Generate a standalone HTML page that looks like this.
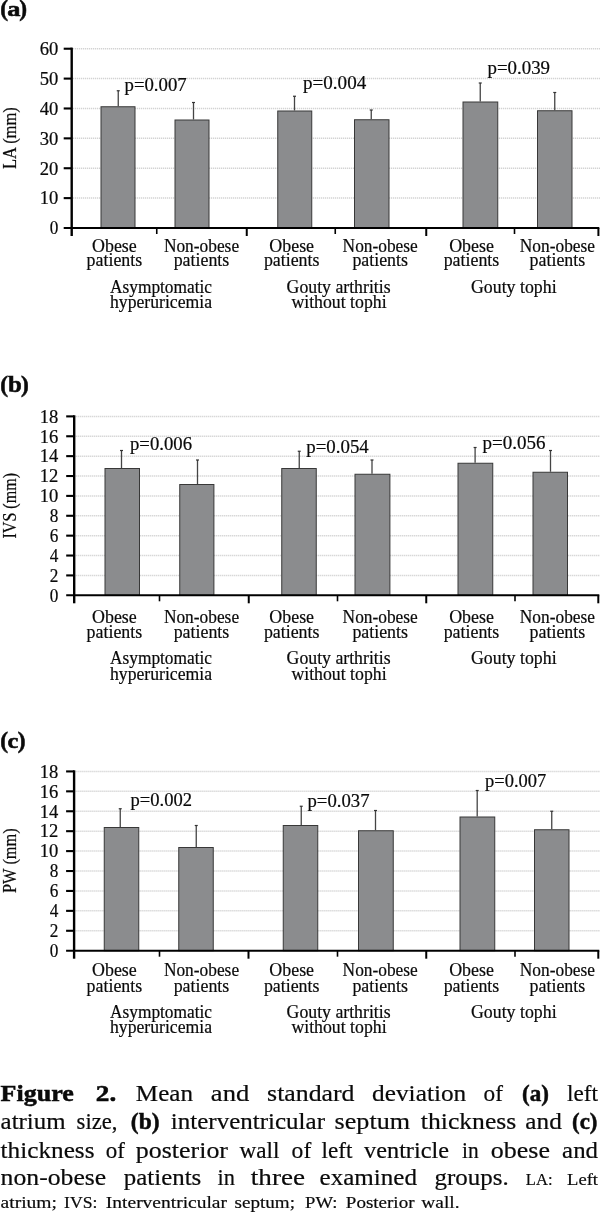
<!DOCTYPE html>
<html><head><meta charset="utf-8"><title>Figure 2</title>
<style>
html,body{margin:0;padding:0;background:#fff;}
body{width:600px;height:1212px;position:relative;overflow:hidden;font-family:"Liberation Serif", serif;color:#111;}
svg{position:absolute;left:0;top:0;}
svg text{font-family:"Liberation Serif", serif;fill:#0a0a0a;stroke:#0a0a0a;stroke-width:0.2px;}
svg text.pl{stroke-width:0.55px;}
svg text.pb{stroke-width:0.5px;}
</style></head><body>
<svg width="600" height="1212" viewBox="0 0 600 1212">
<line x1="73.2" y1="198.12" x2="600" y2="198.12" stroke="#c8c8c8" stroke-width="1.5" stroke-dasharray="1 1"/>
<line x1="73.2" y1="168.24" x2="600" y2="168.24" stroke="#c8c8c8" stroke-width="1.5" stroke-dasharray="1 1"/>
<line x1="73.2" y1="138.36" x2="600" y2="138.36" stroke="#c8c8c8" stroke-width="1.5" stroke-dasharray="1 1"/>
<line x1="73.2" y1="108.48" x2="600" y2="108.48" stroke="#c8c8c8" stroke-width="1.5" stroke-dasharray="1 1"/>
<line x1="73.2" y1="78.60" x2="600" y2="78.60" stroke="#c8c8c8" stroke-width="1.5" stroke-dasharray="1 1"/>
<line x1="73.2" y1="48.72" x2="600" y2="48.72" stroke="#c8c8c8" stroke-width="1.5" stroke-dasharray="1 1"/>
<line x1="118.25" y1="90.75" x2="118.25" y2="106.25" stroke="#444" stroke-width="1.3"/>
<line x1="116.75" y1="90.75" x2="119.75" y2="90.75" stroke="#333" stroke-width="1.2"/>
<rect x="101.0" y="106.75" width="34.0" height="121.25" fill="#8b8c8e" stroke="#383838" stroke-width="1"/>
<line x1="193.5" y1="102.5" x2="193.5" y2="119.5" stroke="#444" stroke-width="1.3"/>
<line x1="192.0" y1="102.5" x2="195.0" y2="102.5" stroke="#333" stroke-width="1.2"/>
<rect x="175.0" y="120.0" width="34.0" height="108.0" fill="#8b8c8e" stroke="#383838" stroke-width="1"/>
<line x1="294.5" y1="96.25" x2="294.5" y2="110.5" stroke="#444" stroke-width="1.3"/>
<line x1="293.0" y1="96.25" x2="296.0" y2="96.25" stroke="#333" stroke-width="1.2"/>
<rect x="277.75" y="111.0" width="34.0" height="117.0" fill="#8b8c8e" stroke="#383838" stroke-width="1"/>
<line x1="371.25" y1="110" x2="371.25" y2="119.25" stroke="#444" stroke-width="1.3"/>
<line x1="369.75" y1="110" x2="372.75" y2="110" stroke="#333" stroke-width="1.2"/>
<rect x="354.5" y="119.75" width="34.5" height="108.25" fill="#8b8c8e" stroke="#383838" stroke-width="1"/>
<line x1="480.25" y1="83" x2="480.25" y2="101.5" stroke="#444" stroke-width="1.3"/>
<line x1="478.75" y1="83" x2="481.75" y2="83" stroke="#333" stroke-width="1.2"/>
<rect x="463.0" y="102.0" width="34.75" height="126.0" fill="#8b8c8e" stroke="#383838" stroke-width="1"/>
<line x1="554.75" y1="92.5" x2="554.75" y2="110.25" stroke="#444" stroke-width="1.3"/>
<line x1="553.25" y1="92.5" x2="556.25" y2="92.5" stroke="#333" stroke-width="1.2"/>
<rect x="537.5" y="110.75" width="34.5" height="117.25" fill="#8b8c8e" stroke="#383838" stroke-width="1"/>
<line x1="71.7" y1="47.62" x2="71.7" y2="236" stroke="#000" stroke-width="2.4"/>
<line x1="63.7" y1="228" x2="599.3" y2="228" stroke="#000" stroke-width="2.1"/>
<line x1="63.7" y1="198.12" x2="71.7" y2="198.12" stroke="#000" stroke-width="2.1"/>
<line x1="63.7" y1="168.24" x2="71.7" y2="168.24" stroke="#000" stroke-width="2.1"/>
<line x1="63.7" y1="138.36" x2="71.7" y2="138.36" stroke="#000" stroke-width="2.1"/>
<line x1="63.7" y1="108.48" x2="71.7" y2="108.48" stroke="#000" stroke-width="2.1"/>
<line x1="63.7" y1="78.60" x2="71.7" y2="78.60" stroke="#000" stroke-width="2.1"/>
<line x1="63.7" y1="48.72" x2="71.7" y2="48.72" stroke="#000" stroke-width="2.1"/>
<line x1="156.75" y1="228" x2="156.75" y2="234" stroke="#000" stroke-width="1.6"/>
<line x1="246.75" y1="228" x2="246.75" y2="236" stroke="#000" stroke-width="2"/>
<line x1="335.25" y1="228" x2="335.25" y2="234" stroke="#000" stroke-width="1.6"/>
<line x1="426.25" y1="228" x2="426.25" y2="236" stroke="#000" stroke-width="2"/>
<line x1="514.5" y1="228" x2="514.5" y2="234" stroke="#000" stroke-width="1.6"/>
<line x1="598.4" y1="228" x2="598.4" y2="236" stroke="#000" stroke-width="2"/>
<text x="58.3" y="234.30" font-size="18" text-anchor="end" textLength="8.6" lengthAdjust="spacingAndGlyphs">0</text>
<text x="58.3" y="204.42" font-size="18" text-anchor="end" textLength="18.6" lengthAdjust="spacingAndGlyphs">10</text>
<text x="58.3" y="174.54" font-size="18" text-anchor="end" textLength="18.6" lengthAdjust="spacingAndGlyphs">20</text>
<text x="58.3" y="144.66" font-size="18" text-anchor="end" textLength="18.6" lengthAdjust="spacingAndGlyphs">30</text>
<text x="58.3" y="114.78" font-size="18" text-anchor="end" textLength="18.6" lengthAdjust="spacingAndGlyphs">40</text>
<text x="58.3" y="84.90" font-size="18" text-anchor="end" textLength="18.6" lengthAdjust="spacingAndGlyphs">50</text>
<text x="58.3" y="55.02" font-size="18" text-anchor="end" textLength="18.6" lengthAdjust="spacingAndGlyphs">60</text>
<text x="124.5" y="91.25" font-size="18" textLength="62.2" lengthAdjust="spacingAndGlyphs">p=0.007</text>
<text x="303" y="89.25" font-size="18" textLength="63.2" lengthAdjust="spacingAndGlyphs">p=0.004</text>
<text x="487.5" y="73.75" font-size="18" textLength="62.5" lengthAdjust="spacingAndGlyphs">p=0.039</text>
<text transform="translate(15.8 169) rotate(-90)" font-size="18" textLength="61.7" lengthAdjust="spacingAndGlyphs">LA (mm)</text>
<text x="114.4" y="251.7" font-size="18" text-anchor="middle" textLength="44.7" lengthAdjust="spacingAndGlyphs">Obese</text>
<text x="114.4" y="266.3" font-size="18" text-anchor="middle" textLength="55.6" lengthAdjust="spacingAndGlyphs">patients</text>
<text x="201.5" y="251.7" font-size="18" text-anchor="middle" textLength="75.2" lengthAdjust="spacingAndGlyphs">Non-obese</text>
<text x="201.5" y="266.3" font-size="18" text-anchor="middle" textLength="55.6" lengthAdjust="spacingAndGlyphs">patients</text>
<text x="291.7" y="251.7" font-size="18" text-anchor="middle" textLength="44.7" lengthAdjust="spacingAndGlyphs">Obese</text>
<text x="291.7" y="266.3" font-size="18" text-anchor="middle" textLength="55.6" lengthAdjust="spacingAndGlyphs">patients</text>
<text x="380.2" y="251.7" font-size="18" text-anchor="middle" textLength="75.2" lengthAdjust="spacingAndGlyphs">Non-obese</text>
<text x="380.2" y="266.3" font-size="18" text-anchor="middle" textLength="55.6" lengthAdjust="spacingAndGlyphs">patients</text>
<text x="471.5" y="251.7" font-size="18" text-anchor="middle" textLength="44.7" lengthAdjust="spacingAndGlyphs">Obese</text>
<text x="471.5" y="266.3" font-size="18" text-anchor="middle" textLength="55.6" lengthAdjust="spacingAndGlyphs">patients</text>
<text x="557.4" y="251.7" font-size="18" text-anchor="middle" textLength="75.2" lengthAdjust="spacingAndGlyphs">Non-obese</text>
<text x="557.4" y="266.3" font-size="18" text-anchor="middle" textLength="55.6" lengthAdjust="spacingAndGlyphs">patients</text>
<text x="161" y="292.5" font-size="18" text-anchor="middle" textLength="102" lengthAdjust="spacingAndGlyphs">Asymptomatic</text>
<text x="161" y="308" font-size="18" text-anchor="middle" textLength="102" lengthAdjust="spacingAndGlyphs">hyperuricemia</text>
<text x="338.6" y="292.5" font-size="18" text-anchor="middle" textLength="104" lengthAdjust="spacingAndGlyphs">Gouty arthritis</text>
<text x="339" y="308" font-size="18" text-anchor="middle" textLength="95.2" lengthAdjust="spacingAndGlyphs">without tophi</text>
<text x="513.8" y="292.5" font-size="18" text-anchor="middle" textLength="85.6" lengthAdjust="spacingAndGlyphs">Gouty tophi</text>
<text class="pl" y="15.8" font-size="23.4" font-weight="bold"><tspan x="0.30000000000000004">(</tspan><tspan x="7.2" font-size="22" textLength="13.2" lengthAdjust="spacingAndGlyphs">a</tspan><tspan x="19.2">)</tspan></text>
<line x1="75.7" y1="575.42" x2="600" y2="575.42" stroke="#c8c8c8" stroke-width="1.5" stroke-dasharray="1 1"/>
<line x1="75.7" y1="555.54" x2="600" y2="555.54" stroke="#c8c8c8" stroke-width="1.5" stroke-dasharray="1 1"/>
<line x1="75.7" y1="535.66" x2="600" y2="535.66" stroke="#c8c8c8" stroke-width="1.5" stroke-dasharray="1 1"/>
<line x1="75.7" y1="515.78" x2="600" y2="515.78" stroke="#c8c8c8" stroke-width="1.5" stroke-dasharray="1 1"/>
<line x1="75.7" y1="495.90" x2="600" y2="495.90" stroke="#c8c8c8" stroke-width="1.5" stroke-dasharray="1 1"/>
<line x1="75.7" y1="476.02" x2="600" y2="476.02" stroke="#c8c8c8" stroke-width="1.5" stroke-dasharray="1 1"/>
<line x1="75.7" y1="456.14" x2="600" y2="456.14" stroke="#c8c8c8" stroke-width="1.5" stroke-dasharray="1 1"/>
<line x1="75.7" y1="436.26" x2="600" y2="436.26" stroke="#c8c8c8" stroke-width="1.5" stroke-dasharray="1 1"/>
<line x1="75.7" y1="416.38" x2="600" y2="416.38" stroke="#c8c8c8" stroke-width="1.5" stroke-dasharray="1 1"/>
<line x1="121.5" y1="450.5" x2="121.5" y2="468" stroke="#444" stroke-width="1.3"/>
<line x1="120.0" y1="450.5" x2="123.0" y2="450.5" stroke="#333" stroke-width="1.2"/>
<rect x="105.0" y="468.5" width="34.5" height="126.79999999999995" fill="#8b8c8e" stroke="#383838" stroke-width="1"/>
<line x1="197.5" y1="460" x2="197.5" y2="484" stroke="#444" stroke-width="1.3"/>
<line x1="196.0" y1="460" x2="199.0" y2="460" stroke="#333" stroke-width="1.2"/>
<rect x="179.75" y="484.5" width="34.150000000000006" height="110.79999999999995" fill="#8b8c8e" stroke="#383838" stroke-width="1"/>
<line x1="299.25" y1="451.25" x2="299.25" y2="468" stroke="#444" stroke-width="1.3"/>
<line x1="297.75" y1="451.25" x2="300.75" y2="451.25" stroke="#333" stroke-width="1.2"/>
<rect x="281.75" y="468.5" width="34.5" height="126.79999999999995" fill="#8b8c8e" stroke="#383838" stroke-width="1"/>
<line x1="372" y1="460" x2="372" y2="473.75" stroke="#444" stroke-width="1.3"/>
<line x1="370.5" y1="460" x2="373.5" y2="460" stroke="#333" stroke-width="1.2"/>
<rect x="355.0" y="474.25" width="34.89999999999998" height="121.04999999999995" fill="#8b8c8e" stroke="#383838" stroke-width="1"/>
<line x1="475.1" y1="447.5" x2="475.1" y2="462.75" stroke="#444" stroke-width="1.3"/>
<line x1="473.6" y1="447.5" x2="476.6" y2="447.5" stroke="#333" stroke-width="1.2"/>
<rect x="458.0" y="463.25" width="34.75" height="132.04999999999995" fill="#8b8c8e" stroke="#383838" stroke-width="1"/>
<line x1="550.5" y1="450.5" x2="550.5" y2="471.75" stroke="#444" stroke-width="1.3"/>
<line x1="549.0" y1="450.5" x2="552.0" y2="450.5" stroke="#333" stroke-width="1.2"/>
<rect x="533.0" y="472.25" width="34.5" height="123.04999999999995" fill="#8b8c8e" stroke="#383838" stroke-width="1"/>
<line x1="74.2" y1="415.28" x2="74.2" y2="603.3" stroke="#000" stroke-width="2.4"/>
<line x1="66.2" y1="595.3" x2="599.3" y2="595.3" stroke="#000" stroke-width="2.1"/>
<line x1="66.2" y1="575.42" x2="74.2" y2="575.42" stroke="#000" stroke-width="2.1"/>
<line x1="66.2" y1="555.54" x2="74.2" y2="555.54" stroke="#000" stroke-width="2.1"/>
<line x1="66.2" y1="535.66" x2="74.2" y2="535.66" stroke="#000" stroke-width="2.1"/>
<line x1="66.2" y1="515.78" x2="74.2" y2="515.78" stroke="#000" stroke-width="2.1"/>
<line x1="66.2" y1="495.90" x2="74.2" y2="495.90" stroke="#000" stroke-width="2.1"/>
<line x1="66.2" y1="476.02" x2="74.2" y2="476.02" stroke="#000" stroke-width="2.1"/>
<line x1="66.2" y1="456.14" x2="74.2" y2="456.14" stroke="#000" stroke-width="2.1"/>
<line x1="66.2" y1="436.26" x2="74.2" y2="436.26" stroke="#000" stroke-width="2.1"/>
<line x1="66.2" y1="416.38" x2="74.2" y2="416.38" stroke="#000" stroke-width="2.1"/>
<line x1="159.5" y1="595.3" x2="159.5" y2="601.3" stroke="#000" stroke-width="1.6"/>
<line x1="248.75" y1="595.3" x2="248.75" y2="603.3" stroke="#000" stroke-width="2"/>
<line x1="337.5" y1="595.3" x2="337.5" y2="601.3" stroke="#000" stroke-width="1.6"/>
<line x1="426.25" y1="595.3" x2="426.25" y2="603.3" stroke="#000" stroke-width="2"/>
<line x1="515" y1="595.3" x2="515" y2="601.3" stroke="#000" stroke-width="1.6"/>
<line x1="598.3" y1="595.3" x2="598.3" y2="603.3" stroke="#000" stroke-width="2"/>
<text x="58.3" y="601.60" font-size="18" text-anchor="end" textLength="8.6" lengthAdjust="spacingAndGlyphs">0</text>
<text x="58.3" y="581.72" font-size="18" text-anchor="end" textLength="8.6" lengthAdjust="spacingAndGlyphs">2</text>
<text x="58.3" y="561.84" font-size="18" text-anchor="end" textLength="8.6" lengthAdjust="spacingAndGlyphs">4</text>
<text x="58.3" y="541.96" font-size="18" text-anchor="end" textLength="8.6" lengthAdjust="spacingAndGlyphs">6</text>
<text x="58.3" y="522.08" font-size="18" text-anchor="end" textLength="8.6" lengthAdjust="spacingAndGlyphs">8</text>
<text x="58.3" y="502.20" font-size="18" text-anchor="end" textLength="18.6" lengthAdjust="spacingAndGlyphs">10</text>
<text x="58.3" y="482.32" font-size="18" text-anchor="end" textLength="18.6" lengthAdjust="spacingAndGlyphs">12</text>
<text x="58.3" y="462.44" font-size="18" text-anchor="end" textLength="18.6" lengthAdjust="spacingAndGlyphs">14</text>
<text x="58.3" y="442.56" font-size="18" text-anchor="end" textLength="18.6" lengthAdjust="spacingAndGlyphs">16</text>
<text x="58.3" y="422.68" font-size="18" text-anchor="end" textLength="18.6" lengthAdjust="spacingAndGlyphs">18</text>
<text x="130" y="450" font-size="18" textLength="62" lengthAdjust="spacingAndGlyphs">p=0.006</text>
<text x="306.25" y="452.5" font-size="18" textLength="62.5" lengthAdjust="spacingAndGlyphs">p=0.054</text>
<text x="482.5" y="449.25" font-size="18" textLength="63" lengthAdjust="spacingAndGlyphs">p=0.056</text>
<text transform="translate(15.8 538.5) rotate(-90)" font-size="18" textLength="65.5" lengthAdjust="spacingAndGlyphs">IVS (mm)</text>
<text x="114.4" y="622.8" font-size="18" text-anchor="middle" textLength="44.7" lengthAdjust="spacingAndGlyphs">Obese</text>
<text x="114.4" y="637.8" font-size="18" text-anchor="middle" textLength="55.6" lengthAdjust="spacingAndGlyphs">patients</text>
<text x="201.5" y="622.8" font-size="18" text-anchor="middle" textLength="75.2" lengthAdjust="spacingAndGlyphs">Non-obese</text>
<text x="201.5" y="637.8" font-size="18" text-anchor="middle" textLength="55.6" lengthAdjust="spacingAndGlyphs">patients</text>
<text x="291.7" y="622.8" font-size="18" text-anchor="middle" textLength="44.7" lengthAdjust="spacingAndGlyphs">Obese</text>
<text x="291.7" y="637.8" font-size="18" text-anchor="middle" textLength="55.6" lengthAdjust="spacingAndGlyphs">patients</text>
<text x="380.2" y="622.8" font-size="18" text-anchor="middle" textLength="75.2" lengthAdjust="spacingAndGlyphs">Non-obese</text>
<text x="380.2" y="637.8" font-size="18" text-anchor="middle" textLength="55.6" lengthAdjust="spacingAndGlyphs">patients</text>
<text x="471.5" y="622.8" font-size="18" text-anchor="middle" textLength="44.7" lengthAdjust="spacingAndGlyphs">Obese</text>
<text x="471.5" y="637.8" font-size="18" text-anchor="middle" textLength="55.6" lengthAdjust="spacingAndGlyphs">patients</text>
<text x="557.4" y="622.8" font-size="18" text-anchor="middle" textLength="75.2" lengthAdjust="spacingAndGlyphs">Non-obese</text>
<text x="557.4" y="637.8" font-size="18" text-anchor="middle" textLength="55.6" lengthAdjust="spacingAndGlyphs">patients</text>
<text x="161" y="663.7" font-size="18" text-anchor="middle" textLength="102" lengthAdjust="spacingAndGlyphs">Asymptomatic</text>
<text x="161" y="679.5" font-size="18" text-anchor="middle" textLength="102" lengthAdjust="spacingAndGlyphs">hyperuricemia</text>
<text x="338.6" y="663.7" font-size="18" text-anchor="middle" textLength="104" lengthAdjust="spacingAndGlyphs">Gouty arthritis</text>
<text x="339" y="679.5" font-size="18" text-anchor="middle" textLength="95.2" lengthAdjust="spacingAndGlyphs">without tophi</text>
<text x="513.8" y="663.7" font-size="18" text-anchor="middle" textLength="85.6" lengthAdjust="spacingAndGlyphs">Gouty tophi</text>
<text class="pl" y="392.1" font-size="23.4" font-weight="bold"><tspan x="0.30000000000000004">(</tspan><tspan x="7.9" font-size="24" textLength="13.8" lengthAdjust="spacingAndGlyphs">b</tspan><tspan x="20.9">)</tspan></text>
<line x1="75.6" y1="930.78" x2="600" y2="930.78" stroke="#c8c8c8" stroke-width="1.5" stroke-dasharray="1 1"/>
<line x1="75.6" y1="910.86" x2="600" y2="910.86" stroke="#c8c8c8" stroke-width="1.5" stroke-dasharray="1 1"/>
<line x1="75.6" y1="890.94" x2="600" y2="890.94" stroke="#c8c8c8" stroke-width="1.5" stroke-dasharray="1 1"/>
<line x1="75.6" y1="871.02" x2="600" y2="871.02" stroke="#c8c8c8" stroke-width="1.5" stroke-dasharray="1 1"/>
<line x1="75.6" y1="851.10" x2="600" y2="851.10" stroke="#c8c8c8" stroke-width="1.5" stroke-dasharray="1 1"/>
<line x1="75.6" y1="831.18" x2="600" y2="831.18" stroke="#c8c8c8" stroke-width="1.5" stroke-dasharray="1 1"/>
<line x1="75.6" y1="811.26" x2="600" y2="811.26" stroke="#c8c8c8" stroke-width="1.5" stroke-dasharray="1 1"/>
<line x1="75.6" y1="791.34" x2="600" y2="791.34" stroke="#c8c8c8" stroke-width="1.5" stroke-dasharray="1 1"/>
<line x1="75.6" y1="771.42" x2="600" y2="771.42" stroke="#c8c8c8" stroke-width="1.5" stroke-dasharray="1 1"/>
<line x1="120.25" y1="808.75" x2="120.25" y2="827" stroke="#444" stroke-width="1.3"/>
<line x1="118.75" y1="808.75" x2="121.75" y2="808.75" stroke="#333" stroke-width="1.2"/>
<rect x="104.25" y="827.5" width="34.5" height="123.20000000000005" fill="#8b8c8e" stroke="#383838" stroke-width="1"/>
<line x1="196.25" y1="825.5" x2="196.25" y2="847" stroke="#444" stroke-width="1.3"/>
<line x1="194.75" y1="825.5" x2="197.75" y2="825.5" stroke="#333" stroke-width="1.2"/>
<rect x="178.75" y="847.5" width="34.5" height="103.20000000000005" fill="#8b8c8e" stroke="#383838" stroke-width="1"/>
<line x1="301.25" y1="806.25" x2="301.25" y2="825" stroke="#444" stroke-width="1.3"/>
<line x1="299.75" y1="806.25" x2="302.75" y2="806.25" stroke="#333" stroke-width="1.2"/>
<rect x="283.25" y="825.5" width="34.5" height="125.20000000000005" fill="#8b8c8e" stroke="#383838" stroke-width="1"/>
<line x1="375.5" y1="810.5" x2="375.5" y2="830.25" stroke="#444" stroke-width="1.3"/>
<line x1="374.0" y1="810.5" x2="377.0" y2="810.5" stroke="#333" stroke-width="1.2"/>
<rect x="358.5" y="830.75" width="34.75" height="119.95000000000005" fill="#8b8c8e" stroke="#383838" stroke-width="1"/>
<line x1="477.2" y1="790.5" x2="477.2" y2="816.5" stroke="#444" stroke-width="1.3"/>
<line x1="475.7" y1="790.5" x2="478.7" y2="790.5" stroke="#333" stroke-width="1.2"/>
<rect x="460.0" y="817.0" width="34.75" height="133.70000000000005" fill="#8b8c8e" stroke="#383838" stroke-width="1"/>
<line x1="551.75" y1="811.25" x2="551.75" y2="829.25" stroke="#444" stroke-width="1.3"/>
<line x1="550.25" y1="811.25" x2="553.25" y2="811.25" stroke="#333" stroke-width="1.2"/>
<rect x="534.5" y="829.75" width="34.5" height="120.95000000000005" fill="#8b8c8e" stroke="#383838" stroke-width="1"/>
<line x1="74.1" y1="770.32" x2="74.1" y2="958.7" stroke="#000" stroke-width="2.4"/>
<line x1="66.1" y1="950.7" x2="599.3" y2="950.7" stroke="#000" stroke-width="2.1"/>
<line x1="66.1" y1="930.78" x2="74.1" y2="930.78" stroke="#000" stroke-width="2.1"/>
<line x1="66.1" y1="910.86" x2="74.1" y2="910.86" stroke="#000" stroke-width="2.1"/>
<line x1="66.1" y1="890.94" x2="74.1" y2="890.94" stroke="#000" stroke-width="2.1"/>
<line x1="66.1" y1="871.02" x2="74.1" y2="871.02" stroke="#000" stroke-width="2.1"/>
<line x1="66.1" y1="851.10" x2="74.1" y2="851.10" stroke="#000" stroke-width="2.1"/>
<line x1="66.1" y1="831.18" x2="74.1" y2="831.18" stroke="#000" stroke-width="2.1"/>
<line x1="66.1" y1="811.26" x2="74.1" y2="811.26" stroke="#000" stroke-width="2.1"/>
<line x1="66.1" y1="791.34" x2="74.1" y2="791.34" stroke="#000" stroke-width="2.1"/>
<line x1="66.1" y1="771.42" x2="74.1" y2="771.42" stroke="#000" stroke-width="2.1"/>
<line x1="159.5" y1="950.7" x2="159.5" y2="956.7" stroke="#000" stroke-width="1.6"/>
<line x1="248.5" y1="950.7" x2="248.5" y2="958.7" stroke="#000" stroke-width="2"/>
<line x1="337.5" y1="950.7" x2="337.5" y2="956.7" stroke="#000" stroke-width="1.6"/>
<line x1="426.25" y1="950.7" x2="426.25" y2="958.7" stroke="#000" stroke-width="2"/>
<line x1="515" y1="950.7" x2="515" y2="956.7" stroke="#000" stroke-width="1.6"/>
<line x1="598.3" y1="950.7" x2="598.3" y2="958.7" stroke="#000" stroke-width="2"/>
<text x="58.3" y="957.00" font-size="18" text-anchor="end" textLength="8.6" lengthAdjust="spacingAndGlyphs">0</text>
<text x="58.3" y="937.08" font-size="18" text-anchor="end" textLength="8.6" lengthAdjust="spacingAndGlyphs">2</text>
<text x="58.3" y="917.16" font-size="18" text-anchor="end" textLength="8.6" lengthAdjust="spacingAndGlyphs">4</text>
<text x="58.3" y="897.24" font-size="18" text-anchor="end" textLength="8.6" lengthAdjust="spacingAndGlyphs">6</text>
<text x="58.3" y="877.32" font-size="18" text-anchor="end" textLength="8.6" lengthAdjust="spacingAndGlyphs">8</text>
<text x="58.3" y="857.40" font-size="18" text-anchor="end" textLength="18.6" lengthAdjust="spacingAndGlyphs">10</text>
<text x="58.3" y="837.48" font-size="18" text-anchor="end" textLength="18.6" lengthAdjust="spacingAndGlyphs">12</text>
<text x="58.3" y="817.56" font-size="18" text-anchor="end" textLength="18.6" lengthAdjust="spacingAndGlyphs">14</text>
<text x="58.3" y="797.64" font-size="18" text-anchor="end" textLength="18.6" lengthAdjust="spacingAndGlyphs">16</text>
<text x="58.3" y="777.72" font-size="18" text-anchor="end" textLength="18.6" lengthAdjust="spacingAndGlyphs">18</text>
<text x="130.5" y="805.5" font-size="18" textLength="61.5" lengthAdjust="spacingAndGlyphs">p=0.002</text>
<text x="307.5" y="806.5" font-size="18" textLength="62" lengthAdjust="spacingAndGlyphs">p=0.037</text>
<text x="485" y="786.75" font-size="18" textLength="61.25" lengthAdjust="spacingAndGlyphs">p=0.007</text>
<text transform="translate(15.8 893) rotate(-90)" font-size="18" textLength="64.8" lengthAdjust="spacingAndGlyphs">PW (mm)</text>
<text x="114.4" y="975.7" font-size="18" text-anchor="middle" textLength="44.7" lengthAdjust="spacingAndGlyphs">Obese</text>
<text x="114.4" y="991.7" font-size="18" text-anchor="middle" textLength="55.6" lengthAdjust="spacingAndGlyphs">patients</text>
<text x="201.5" y="975.7" font-size="18" text-anchor="middle" textLength="75.2" lengthAdjust="spacingAndGlyphs">Non-obese</text>
<text x="201.5" y="991.7" font-size="18" text-anchor="middle" textLength="55.6" lengthAdjust="spacingAndGlyphs">patients</text>
<text x="291.7" y="975.7" font-size="18" text-anchor="middle" textLength="44.7" lengthAdjust="spacingAndGlyphs">Obese</text>
<text x="291.7" y="991.7" font-size="18" text-anchor="middle" textLength="55.6" lengthAdjust="spacingAndGlyphs">patients</text>
<text x="380.2" y="975.7" font-size="18" text-anchor="middle" textLength="75.2" lengthAdjust="spacingAndGlyphs">Non-obese</text>
<text x="380.2" y="991.7" font-size="18" text-anchor="middle" textLength="55.6" lengthAdjust="spacingAndGlyphs">patients</text>
<text x="471.5" y="975.7" font-size="18" text-anchor="middle" textLength="44.7" lengthAdjust="spacingAndGlyphs">Obese</text>
<text x="471.5" y="991.7" font-size="18" text-anchor="middle" textLength="55.6" lengthAdjust="spacingAndGlyphs">patients</text>
<text x="557.4" y="975.7" font-size="18" text-anchor="middle" textLength="75.2" lengthAdjust="spacingAndGlyphs">Non-obese</text>
<text x="557.4" y="991.7" font-size="18" text-anchor="middle" textLength="55.6" lengthAdjust="spacingAndGlyphs">patients</text>
<text x="161" y="1017.8" font-size="18" text-anchor="middle" textLength="102" lengthAdjust="spacingAndGlyphs">Asymptomatic</text>
<text x="161" y="1033.2" font-size="18" text-anchor="middle" textLength="102" lengthAdjust="spacingAndGlyphs">hyperuricemia</text>
<text x="338.6" y="1017.8" font-size="18" text-anchor="middle" textLength="104" lengthAdjust="spacingAndGlyphs">Gouty arthritis</text>
<text x="339" y="1033.2" font-size="18" text-anchor="middle" textLength="95.2" lengthAdjust="spacingAndGlyphs">without tophi</text>
<text x="513.8" y="1017.8" font-size="18" text-anchor="middle" textLength="85.6" lengthAdjust="spacingAndGlyphs">Gouty tophi</text>
<text class="pl" y="748" font-size="23.4" font-weight="bold"><tspan x="0.30000000000000004">(</tspan><tspan x="7.6" font-size="22" textLength="10.8" lengthAdjust="spacingAndGlyphs">c</tspan><tspan x="17.8">)</tspan></text>
<text x="0.6" y="1100.7" font-size="23" textLength="73.15" lengthAdjust="spacingAndGlyphs" font-weight="bold" class="pb">Figure</text>
<text x="95.85" y="1100.7" font-size="23" textLength="20.4" lengthAdjust="spacingAndGlyphs" font-weight="bold" class="pb">2.</text>
<text x="135.85" y="1100.7" font-size="23" textLength="57.15" lengthAdjust="spacingAndGlyphs">Mean</text>
<text x="210.85" y="1100.7" font-size="23" textLength="38.4" lengthAdjust="spacingAndGlyphs">and</text>
<text x="267.1" y="1100.7" font-size="23" textLength="87.4" lengthAdjust="spacingAndGlyphs">standard</text>
<text x="372.1" y="1100.7" font-size="23" textLength="94.15" lengthAdjust="spacingAndGlyphs">deviation</text>
<text x="483.6" y="1100.7" font-size="23" textLength="19.4" lengthAdjust="spacingAndGlyphs">of</text>
<text x="522.1" y="1100.7" font-size="23" textLength="26.9" lengthAdjust="spacingAndGlyphs" font-weight="bold" class="pb">(a)</text>
<text x="567.1" y="1100.7" font-size="23" textLength="30.9" lengthAdjust="spacingAndGlyphs">left</text>
<text x="0.6" y="1129" font-size="23" textLength="64.9" lengthAdjust="spacingAndGlyphs">atrium</text>
<text x="76.6" y="1129" font-size="23" textLength="40.9" lengthAdjust="spacingAndGlyphs">size,</text>
<text x="130.85" y="1129" font-size="23" textLength="28.65" lengthAdjust="spacingAndGlyphs" font-weight="bold" class="pb">(b)</text>
<text x="170.85" y="1129" font-size="23" textLength="154.15" lengthAdjust="spacingAndGlyphs">interventricular</text>
<text x="334.6" y="1129" font-size="23" textLength="75.4" lengthAdjust="spacingAndGlyphs">septum</text>
<text x="420.85" y="1129" font-size="23" textLength="95.4" lengthAdjust="spacingAndGlyphs">thickness</text>
<text x="525.35" y="1129" font-size="23" textLength="36.4" lengthAdjust="spacingAndGlyphs">and</text>
<text x="572.1" y="1129" font-size="23" textLength="25.4" lengthAdjust="spacingAndGlyphs" font-weight="bold" class="pb">(c)</text>
<text x="0.6" y="1157.5" font-size="23" textLength="93.9" lengthAdjust="spacingAndGlyphs">thickness</text>
<text x="105.85" y="1157.5" font-size="23" textLength="19.15" lengthAdjust="spacingAndGlyphs">of</text>
<text x="135.85" y="1157.5" font-size="23" textLength="92.15" lengthAdjust="spacingAndGlyphs">posterior</text>
<text x="239.6" y="1157.5" font-size="23" textLength="39.9" lengthAdjust="spacingAndGlyphs">wall</text>
<text x="291.6" y="1157.5" font-size="23" textLength="19.65" lengthAdjust="spacingAndGlyphs">of</text>
<text x="321.6" y="1157.5" font-size="23" textLength="30.9" lengthAdjust="spacingAndGlyphs">left</text>
<text x="364.1" y="1157.5" font-size="23" textLength="84.9" lengthAdjust="spacingAndGlyphs">ventricle</text>
<text x="462.1" y="1157.5" font-size="23" textLength="16.65" lengthAdjust="spacingAndGlyphs">in</text>
<text x="490.85" y="1157.5" font-size="23" textLength="59.15" lengthAdjust="spacingAndGlyphs">obese</text>
<text x="562.1" y="1157.5" font-size="23" textLength="35.9" lengthAdjust="spacingAndGlyphs">and</text>
<text x="0.6" y="1185.4" font-size="23" textLength="105.65" lengthAdjust="spacingAndGlyphs">non-obese</text>
<text x="123.85" y="1185.4" font-size="23" textLength="77.4" lengthAdjust="spacingAndGlyphs">patients</text>
<text x="217.6" y="1185.4" font-size="23" textLength="17.4" lengthAdjust="spacingAndGlyphs">in</text>
<text x="250.85" y="1185.4" font-size="23" textLength="54.15" lengthAdjust="spacingAndGlyphs">three</text>
<text x="319.6" y="1185.4" font-size="23" textLength="97.4" lengthAdjust="spacingAndGlyphs">examined</text>
<text x="434.6" y="1185.4" font-size="23" textLength="74.15" lengthAdjust="spacingAndGlyphs">groups.</text>
<text x="525.85" y="1185.4" font-size="17" textLength="26.65" lengthAdjust="spacingAndGlyphs">LA:</text>
<text x="567.1" y="1185.4" font-size="17" textLength="30.9" lengthAdjust="spacingAndGlyphs">Left</text>
<text x="0.6" y="1207.8" font-size="17" textLength="56.4" lengthAdjust="spacingAndGlyphs">atrium;</text>
<text x="64.1" y="1207.8" font-size="17" textLength="33.4" lengthAdjust="spacingAndGlyphs">IVS:</text>
<text x="105.85" y="1207.8" font-size="17" textLength="121.15" lengthAdjust="spacingAndGlyphs">Interventricular</text>
<text x="234.6" y="1207.8" font-size="17" textLength="60.4" lengthAdjust="spacingAndGlyphs">septum;</text>
<text x="305.1" y="1207.8" font-size="17" textLength="32.4" lengthAdjust="spacingAndGlyphs">PW:</text>
<text x="345.85" y="1207.8" font-size="17" textLength="68.65" lengthAdjust="spacingAndGlyphs">Posterior</text>
<text x="421.35" y="1207.8" font-size="17" textLength="38.15" lengthAdjust="spacingAndGlyphs">wall.</text>
</svg>

</body></html>
